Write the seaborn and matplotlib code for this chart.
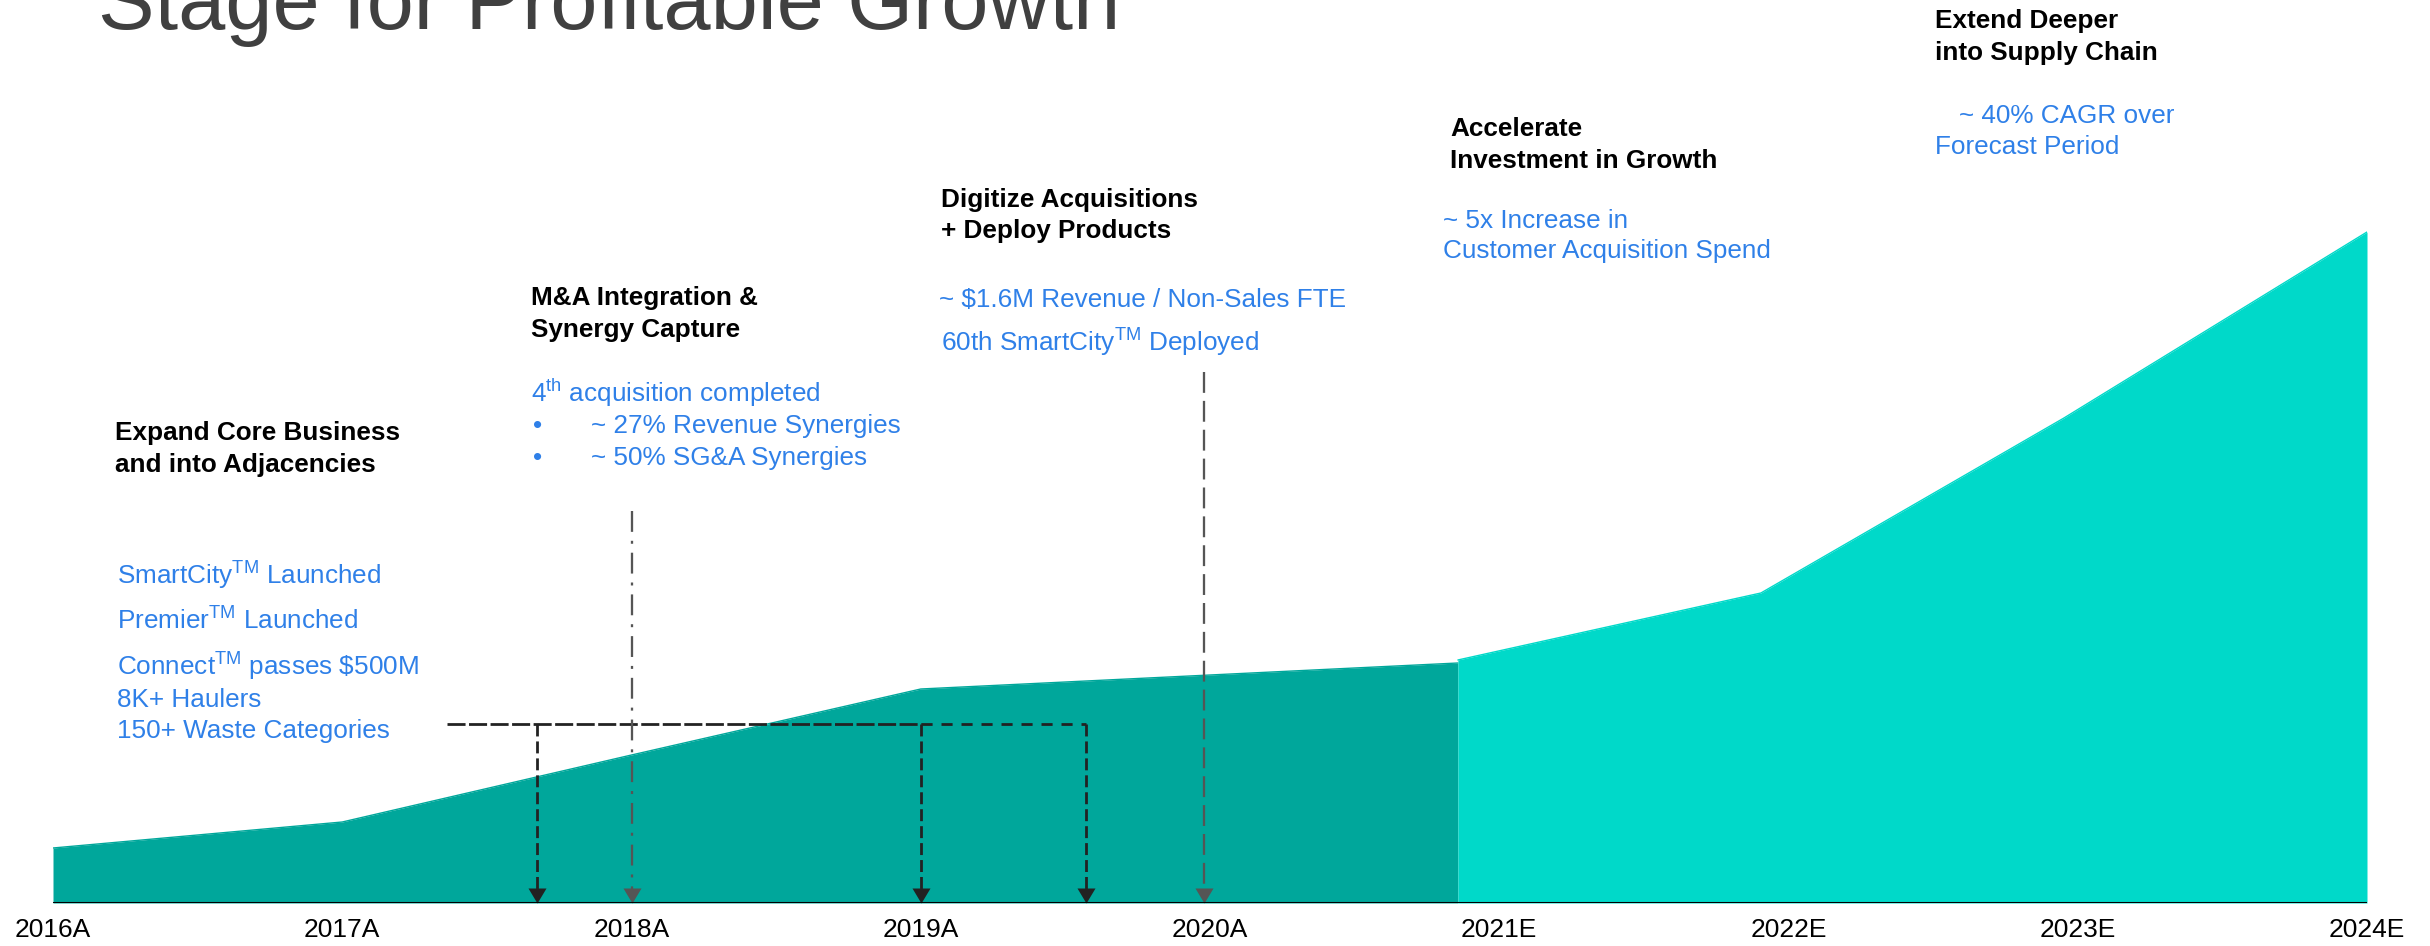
import matplotlib
matplotlib.use("Agg")
import numpy as np
import pandas as pd
import matplotlib.pyplot as plt
import seaborn as sns

# ============================================================================
# DATA
# ============================================================================

years = ["2016A", "2017A", "2018A", "2019A", "2020A",
         "2021E", "2022E", "2023E", "2024E"]

# actual revenue profile (relative units)
actual_years = years[:5]
actual_values = [55, 81, 148, 214, 228]
actual_exit = 240          # level where the actual area hands over to the forecast

# forecast revenue profile (relative units)
forecast_years = years[5:]
forecast_values = [243, 310, 485, 671]

# ============================================================================
# SETUP
# ============================================================================

W, H = 2430, 946
DARK_TEAL = "#00A79B"
LIGHT_TEAL = "#00D9C9"
BLUE = "#2F80E8"
INK = "#222222"
GREY = "#555555"

sns.set_theme(style="white")
plt.rcParams["font.family"] = ["Liberation Sans", "DejaVu Sans"]
plt.rcParams["mathtext.fontset"] = "custom"
plt.rcParams["mathtext.rm"] = "Liberation Sans"
plt.rcParams["mathtext.it"] = "Liberation Sans:italic"
plt.rcParams["mathtext.bf"] = "Liberation Sans:bold"


def fx(x_px):
    return x_px / W


def fy(y_px):
    return 1 - y_px / H


fig = plt.figure(figsize=(W / 100, H / 100), dpi=100)
ax = fig.add_axes([fx(53), 43 / H, (2367 - 53) / W, 903 / H])
ax.set_xlim(0, len(years) - 1)
ax.set_ylim(0, 903)

# forecast drawn on its own x scale (wider spacing, starts before 2021E tick)
ax2 = ax.twiny()
ax2.set_xlim(-4.636, len(forecast_years) - 1)
ax2.set_ylim(0, 903)

# where the forecast scale starts, in main-axis units
x_handover = ax.transData.inverted().transform(ax2.transData.transform((0, 0)))[0]

act = pd.DataFrame({"x": list(range(len(actual_years))) + [x_handover],
                    "value": actual_values + [actual_exit]})
fc = pd.DataFrame({"x": range(len(forecast_years)), "value": forecast_values})

ax.fill_between(act["x"], 0, act["value"], color=DARK_TEAL, lw=0, zorder=1)
sns.lineplot(data=act, x="x", y="value", ax=ax, color=DARK_TEAL, lw=1, zorder=1)
ax2.fill_between(fc["x"], 0, fc["value"], color=LIGHT_TEAL, lw=0, zorder=1)
sns.lineplot(data=fc, x="x", y="value", ax=ax2, color=LIGHT_TEAL, lw=1, zorder=1)

# baseline
ax2.axhline(0, color="black", lw=2.2, zorder=6)

# ============================================================================
# MILESTONE GUIDES
# ============================================================================

head = [(-0.6, 1), (0.6, 1), (0, 0)]
head_len = 12


def drop(x, top, color, lw, dashes):
    ax.plot([x, x], [top, head_len], color=color, lw=lw, dashes=dashes,
            solid_capstyle="butt", dash_capstyle="butt", zorder=4)
    ax.plot([x], [0], marker=head, ms=21.6, color=color, mew=0, zorder=5)


bracket_y = 179
ax.plot([1.362, 3.0], [bracket_y, bracket_y], color=INK, lw=2.0,
        dashes=(6.5, 1.25), dash_capstyle="butt", zorder=4)
ax.plot([3.0, 3.57], [bracket_y, bracket_y], color=INK, lw=2.0,
        dashes=(4, 3.2), dash_capstyle="butt", zorder=4)
for xd in [1.673, 3.0, 3.57]:
    drop(xd, bracket_y, INK, 2.0, (4.3, 1.8))

drop(2.0, 392, GREY, 1.65, (9.1, 3.9, 1.3, 3.9))
drop(3.98, 531, GREY, 1.65, (9.1, 3.5))

# ============================================================================
# AXES STYLE
# ============================================================================

ax.set_xticks(range(len(years)))
ax.set_xticklabels(years, fontsize=19, color="black")
ax.tick_params(axis="x", length=0, pad=11)
ax.set_yticks([])
ax.set_xlabel("")
ax.set_ylabel("")
ax2.set_xticks([])
ax2.set_yticks([])
ax2.set_xlabel("")
ax2.set_ylabel("")
for a in (ax, ax2):
    for s in a.spines.values():
        s.set_visible(False)

# ============================================================================
# TEXT
# ============================================================================

fig.text(fx(98), fy(29), "Stage for Profitable Growth", fontsize=61,
         color="#404040", va="baseline")

TM = r"$^{\mathrm{TM}}$"
headings = [
    (115, 440, "Expand Core Business"),
    (115, 472, "and into Adjacencies"),
    (531, 305, "M&A Integration &"),
    (531, 337, "Synergy Capture"),
    (941, 207, "Digitize Acquisitions"),
    (941, 238, "+ Deploy Products"),
    (1450, 136, "Accelerate"),
    (1450, 168, "Investment in Growth"),
    (1935, 28, "Extend Deeper"),
    (1935, 60, "into Supply Chain"),
]
notes = [
    (117, 585, "SmartCity" + TM + " Launched"),
    (117, 630, "Premier" + TM + " Launched"),
    (117, 676, "Connect" + TM + r" passes \$500M"),
    (117, 707, "8K+ Haulers"),
    (117, 738, "150+ Waste Categories"),
    (531, 402, r"4$^{\mathrm{th}}$ acquisition completed"),
    (533, 433, "\u2022"),
    (591, 433, "~ 27% Revenue Synergies"),
    (533, 465, "\u2022"),
    (591, 465, "~ 50% SG&A Synergies"),
    (939, 307, "~ $1.6M Revenue / Non-Sales FTE"),
    (941, 352, "60th SmartCity" + TM + " Deployed"),
    (1443, 228, "~ 5x Increase in"),
    (1443, 258, "Customer Acquisition Spend"),
    (1959, 123, "~ 40% CAGR over"),
    (1935, 154, "Forecast Period"),
]

for x, y, s in headings:
    fig.text(fx(x), fy(y), s, fontsize=18.8, fontweight="bold",
             color="black", va="baseline")
for x, y, s in notes:
    fig.text(fx(x), fy(y), s, fontsize=18.8, color=BLUE, va="baseline")

fig.savefig("out.png", dpi=100)
